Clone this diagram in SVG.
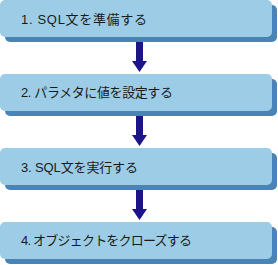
<svg xmlns="http://www.w3.org/2000/svg" width="278" height="265" viewBox="0 0 278 265">
<defs>
<style>
.sh{fill:#4A84B6}
.bx{fill:#9DCDE6}
.t{font-family:"Liberation Sans","Noto Sans CJK JP",sans-serif;font-size:13px;fill:#1a1a1a}
.ar{fill:#1C1488}
</style>
</defs>
<rect width="278" height="265" fill="#fff"/>
<g id="connectors">
<g class="ar"><rect x="136" y="42" width="7" height="20"/><polygon points="132,61 147,61 139.5,72"/></g>
<g class="ar"><rect x="136" y="116" width="7" height="20"/><polygon points="132,135 147,135 139.5,146"/></g>
<g class="ar"><rect x="136" y="190" width="7" height="20"/><polygon points="132,209 147,209 139.5,220"/></g>
</g>
<g id="node1">
<rect class="sh" x="5" y="5" width="272" height="37" rx="5"/>
<rect class="bx" x="0" y="0" width="272" height="37" rx="5"/>
<text class="t" x="21" y="24" textLength="126" lengthAdjust="spacing">1. SQL文を準備する</text>
</g>
<g id="node2">
<rect class="sh" x="5" y="79" width="272" height="37" rx="5"/>
<rect class="bx" x="0" y="74" width="272" height="37" rx="5"/>
<text class="t" x="21" y="97" textLength="152" lengthAdjust="spacing">2. パラメタに値を設定する</text>
</g>
<g id="node3">
<rect class="sh" x="5" y="153" width="272" height="37" rx="5"/>
<rect class="bx" x="0" y="148" width="272" height="37" rx="5"/>
<text class="t" x="21" y="172" textLength="117" lengthAdjust="spacing">3. SQL文を実行する</text>
</g>
<g id="node4">
<rect class="sh" x="5" y="227" width="272" height="37" rx="5"/>
<rect class="bx" x="0" y="222" width="272" height="37" rx="5"/>
<text class="t" x="21" y="245" textLength="171" lengthAdjust="spacing">4. オブジェクトをクローズする</text>
</g>
</svg>
